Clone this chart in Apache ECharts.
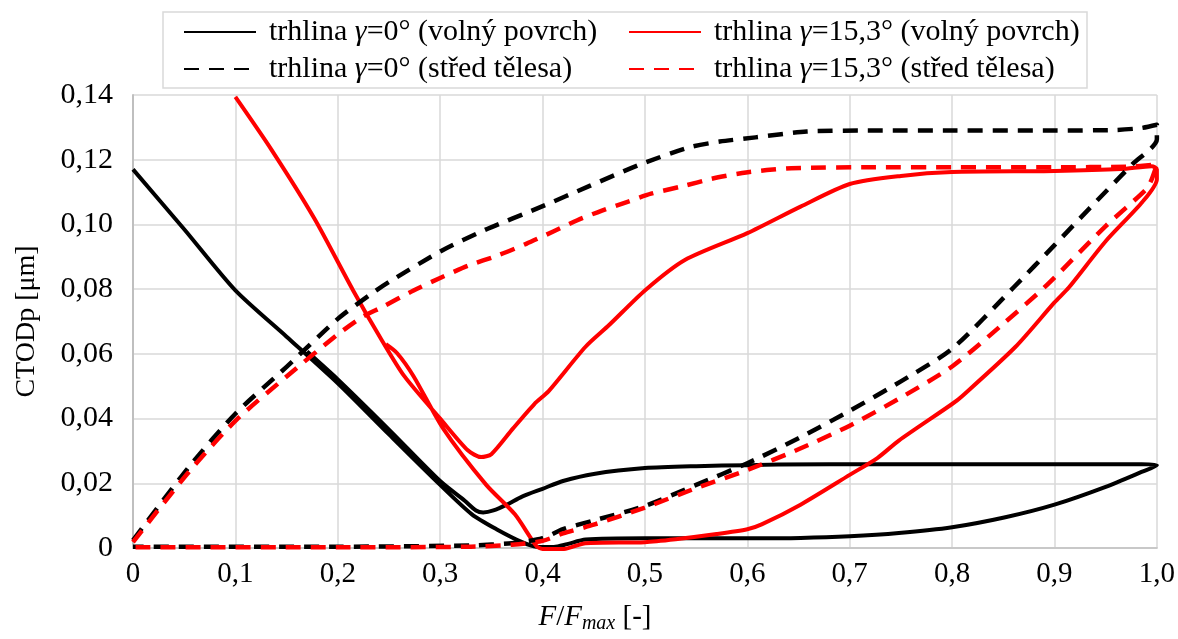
<!DOCTYPE html>
<html>
<head>
<meta charset="utf-8">
<script src="https://cdn.jsdelivr.net/npm/echarts@6/dist/echarts.min.js"></script>
<style>
  html, body { margin: 0; padding: 0; background: #fff; }
  #chart { width: 1178px; height: 639px; }
</style>
</head>
<body>
<div id="chart"></div>
<script>
// Series names (legend text)
const seriesNames = [
  'trhlina γ=0° (volný povrch)',
  'trhlina γ=15,3° (volný povrch)',
  'trhlina γ=0° (střed tělesa)',
  'trhlina γ=15,3° (střed tělesa)'
];

// Tick labels
const xTickLabels = ['0', '0,1', '0,2', '0,3', '0,4', '0,5', '0,6', '0,7', '0,8', '0,9', '1,0'];
const yTickLabels = ['0', '0,02', '0,04', '0,06', '0,08', '0,10', '0,12', '0,14'];

// γ=0°, free surface: F/Fmax and CTODp [μm] along the cycle
const surf0X = [0, 0.05, 0.1, 0.15, 0.2, 0.25, 0.3, 0.331, 0.355, 0.38, 0.394, 0.411, 0.424, 0.442, 0.5, 0.6, 0.652, 0.7, 0.748, 0.8, 0.852, 0.9, 0.95, 0.985, 1.0,
  0.985, 0.93, 0.83, 0.73, 0.63, 0.6, 0.55, 0.5, 0.45, 0.42, 0.4, 0.38, 0.365, 0.352, 0.342, 0.335, 0.324, 0.3, 0.25, 0.2, 0.17];
const surf0Y = [0.117, 0.0985, 0.0796, 0.0653, 0.0509, 0.0351, 0.0195, 0.0104, 0.0058, 0.0018, 0.0004, 0.0003, 0.0012, 0.0026, 0.003, 0.003, 0.0031, 0.0036, 0.0046, 0.0064, 0.0095, 0.0134, 0.0189, 0.0235, 0.0256,
  0.0259, 0.0259, 0.0259, 0.0259, 0.0258, 0.0256, 0.0253, 0.0247, 0.0229, 0.0207, 0.0183, 0.0159, 0.0134, 0.0116, 0.011, 0.0116, 0.0146, 0.0207, 0.0366, 0.0521, 0.0607];

// γ=15,3°, free surface
const surf15X = [0.1, 0.135, 0.177, 0.215, 0.241, 0.265, 0.3, 0.327, 0.34, 0.35, 0.371, 0.392, 0.406, 0.442, 0.465, 0.5, 0.539, 0.6, 0.652, 0.7, 0.75, 0.8, 0.9, 0.965, 0.995, 1.0,
  1.0, 0.986, 0.95, 0.914, 0.9, 0.862, 0.81, 0.8, 0.748, 0.727, 0.7, 0.652, 0.614, 0.6, 0.57, 0.53, 0.5, 0.442, 0.421, 0.4, 0.394, 0.373, 0.345, 0.303, 0.274, 0.258, 0.247];
const surf15Y = [0.1394, 0.1232, 0.1019, 0.0796, 0.0653, 0.0531, 0.040, 0.0302, 0.0281, 0.029, 0.0369, 0.0445, 0.0485, 0.0622, 0.0689, 0.0796, 0.089, 0.0973, 0.1055, 0.1125, 0.115, 0.1162, 0.1165, 0.1171, 0.118, 0.117,
  0.114, 0.107, 0.0948, 0.0805, 0.0759, 0.0622, 0.047, 0.0445, 0.0332, 0.0278, 0.0226, 0.0134, 0.0073, 0.0058, 0.0043, 0.0027, 0.0018, 0.0015, -0.0003, -0.0003, 0.0006, 0.0104, 0.0195, 0.0369, 0.0531, 0.0602, 0.063];

// γ=0°, specimen mid-plane
const mid0X = [0, 0.0545, 0.1, 0.15, 0.2, 0.232, 0.252, 0.301, 0.343, 0.399, 0.446, 0.496, 0.543, 0.573, 0.608, 0.658, 0.725, 0.8, 0.9, 0.96, 0.985, 1.0,
  1.0, 0.976, 0.934, 0.9, 0.86, 0.8, 0.75, 0.7, 0.65, 0.6, 0.55, 0.5, 0.45, 0.42, 0.4, 0.37, 0.33, 0.2, 0];
const mid0Y = [0.0024, 0.025, 0.0415, 0.056, 0.0708, 0.0784, 0.0826, 0.0918, 0.0982, 0.1055, 0.1119, 0.1186, 0.1238, 0.1256, 0.1269, 0.1287, 0.129, 0.129, 0.129, 0.1292, 0.1298, 0.1308,
  0.1263, 0.1186, 0.1049, 0.0936, 0.0805, 0.0616, 0.0515, 0.0424, 0.0339, 0.0262, 0.0195, 0.013, 0.0085, 0.0058, 0.003, 0.0015, 0.0008, 0.0004, 0.0004];

// γ=15,3°, specimen mid-plane
const mid15X = [0, 0.0545, 0.1, 0.15, 0.2, 0.224, 0.243, 0.274, 0.301, 0.327, 0.357, 0.384, 0.411, 0.434, 0.458, 0.483, 0.506, 0.538, 0.565, 0.595, 0.619, 0.643, 0.725, 0.8, 0.9, 0.97, 1.0,
  0.995, 0.99, 0.95, 0.893, 0.85, 0.8, 0.75, 0.7, 0.65, 0.6, 0.55, 0.5, 0.45, 0.42, 0.4, 0.37, 0.33, 0.2, 0];
const mid15Y = [0.0018, 0.0235, 0.0393, 0.053, 0.066, 0.0714, 0.0744, 0.0796, 0.0836, 0.0872, 0.0905, 0.094, 0.0979, 0.1013, 0.1043, 0.107, 0.1095, 0.1119, 0.1141, 0.1159, 0.1168, 0.1174, 0.1177, 0.1177, 0.1177, 0.1178, 0.1185,
  0.114, 0.111, 0.0995, 0.0814, 0.0693, 0.0561, 0.0465, 0.0378, 0.0305, 0.0241, 0.0185, 0.0125, 0.0072, 0.0045, 0.0022, 0.001, 0.0004, 0.0002, 0.0002];

const zip = (xs, ys) => xs.map((x, i) => [x, ys[i]]);

const FONT = 'Liberation Serif';
const BLACK = '#000000';
const RED = '#ff0000';

function lineSeries(name, xs, ys, color, dashed) {
  return {
    name: name,
    type: 'line',
    data: zip(xs, ys),
    symbol: 'none',
    smooth: 0.25,
    clip: false,
    lineStyle: {
      color: color,
      width: dashed ? 4.5 : 4,
      type: dashed ? [15, 10] : 'solid',
      cap: 'butt',
      join: 'round'
    },
    itemStyle: { color: color }
  };
}

const legendText = {
  fontFamily: FONT,
  fontSize: 30,
  color: '#000',
  lineHeight: 34,
  padding: [0, 0, 0, 8],
  rich: {
    i: { fontFamily: FONT, fontSize: 30, fontStyle: 'italic', color: '#000', lineHeight: 34 }
  }
};
const legendFormatter = name => name.replace('γ', '{i|γ}');

function legendAt(name, left, top) {
  return {
    data: [name],
    left: left,
    top: top,
    padding: 0,
    itemWidth: 72,
    itemHeight: 14,
    itemStyle: { opacity: 0 },
    textStyle: legendText,
    formatter: legendFormatter,
    selectedMode: false
  };
}

const chart = echarts.init(document.getElementById('chart'), null, { renderer: 'canvas' });

chart.setOption({
  backgroundColor: '#ffffff',
  animation: false,
  graphic: [{
    type: 'rect',
    z: 0,
    shape: { x: 163, y: 12, width: 924, height: 76 },
    style: { fill: '#ffffff', stroke: '#d9d9d9', lineWidth: 1.5 }
  }],
  legend: [
    legendAt(seriesNames[0], 183, 15),
    legendAt(seriesNames[1], 628, 15),
    legendAt(seriesNames[2], 183, 52),
    legendAt(seriesNames[3], 628, 52)
  ],
  grid: { left: 133, right: 15, top: 95, bottom: 85 },
  xAxis: {
    type: 'value',
    min: 0,
    max: 1,
    interval: 0.1,
    name: '{i|F}/{i|F}{s|max} [-]',
    nameLocation: 'middle',
    nameGap: 52,
    nameTextStyle: {
      fontFamily: FONT,
      fontSize: 29,
      color: '#000',
      padding: [0, 100, 0, 0],
      rich: {
        i: { fontFamily: FONT, fontSize: 29, fontStyle: 'italic', color: '#000' },
        s: { fontFamily: FONT, fontSize: 20, fontStyle: 'italic', color: '#000', padding: [14, 0, 0, 0] }
      }
    },
    axisLine: { show: true, lineStyle: { color: '#c8c8c8', width: 2 } },
    axisTick: { show: false },
    splitLine: { show: true, lineStyle: { color: '#d9d9d9', width: 1.5 } },
    axisLabel: {
      fontFamily: FONT,
      fontSize: 29,
      color: '#000',
      margin: 12,
      formatter: v => xTickLabels[Math.round(v * 10)]
    }
  },
  yAxis: {
    type: 'value',
    min: 0,
    max: 0.14,
    interval: 0.02,
    name: 'CTODp [μm]',
    nameLocation: 'middle',
    nameRotate: 90,
    nameGap: 92,
    nameTextStyle: { fontFamily: FONT, fontSize: 28, color: '#000' },
    axisLine: { show: true, lineStyle: { color: '#bfbfbf', width: 2 } },
    axisTick: { show: false },
    splitLine: { show: true, lineStyle: { color: '#d9d9d9', width: 1.5 } },
    axisLabel: {
      fontFamily: FONT,
      fontSize: 30,
      color: '#000',
      margin: 20,
      formatter: v => yTickLabels[Math.round(v / 0.02)]
    }
  },
  series: [
    lineSeries(seriesNames[0], surf0X, surf0Y, BLACK, false),
    lineSeries(seriesNames[1], surf15X, surf15Y, RED, false),
    lineSeries(seriesNames[2], mid0X, mid0Y, BLACK, true),
    lineSeries(seriesNames[3], mid15X, mid15Y, RED, true)
  ]
});
</script>
</body>
</html>
